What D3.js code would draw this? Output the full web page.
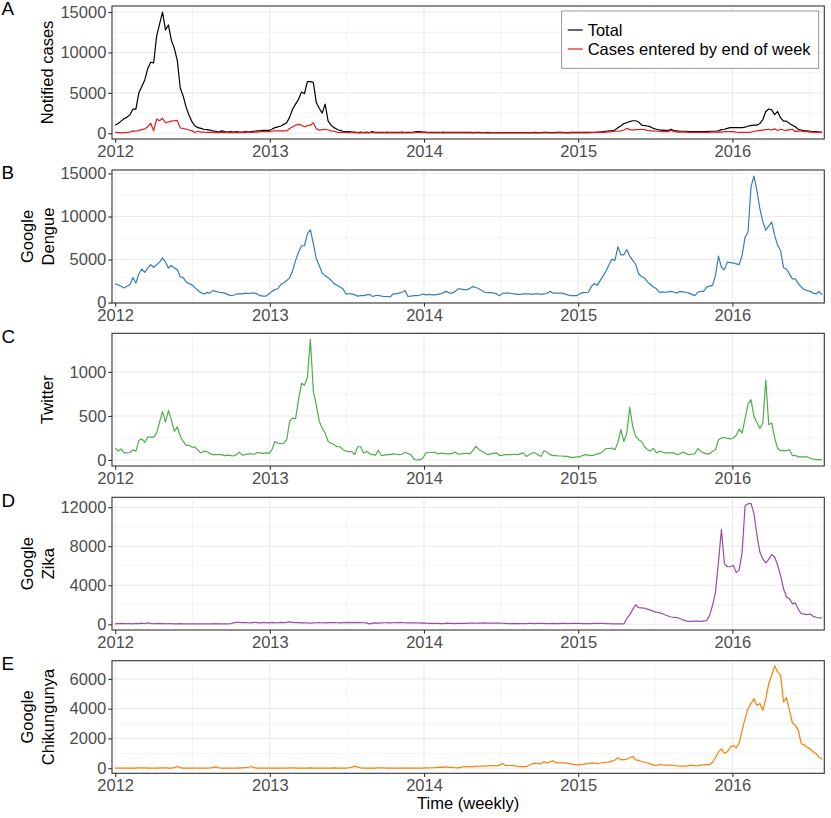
<!DOCTYPE html>
<html><head><meta charset="utf-8">
<script src="https://cdn.jsdelivr.net/npm/d3@7"></script>
<style>
body{margin:0;background:#fff}
svg text{font-family:"Liberation Sans",Arial,Helvetica,sans-serif}
</style></head><body>
<svg id="chart" width="831" height="818"></svg>
<script>
// ---------- DATA (weekly, first week starting 2012-01-01) ----------
const startWeek = "2012-01-01";
const yearTicks = ["2012", "2013", "2014", "2015", "2016"];

const totalCases = [
1000,1200,1500,1800,2000,2300,3000,3000,5000,5800,
6600,8000,8800,8700,12000,13500,15000,12800,13400,11500,
10500,9000,5600,4600,3200,2200,1400,900,700,600,
500,450,400,300,250,150,300,200,150,200,
150,200,150,150,200,150,200,250,300,300,
350,350,350,500,700,800,900,1100,1300,2000,
3000,3600,4200,5100,4900,6400,6400,6300,3800,3100,
2500,3600,1500,1000,700,500,350,250,200,200,
150,150,100,150,100,150,100,200,100,100,
100,100,150,100,100,100,100,150,100,100,
100,150,200,200,150,150,100,100,100,100,
100,150,100,100,100,100,100,100,100,100,
100,80,100,100,80,80,100,80,80,80,
80,80,80,80,80,80,80,80,80,80,
80,80,100,80,80,100,100,80,80,100,
100,100,80,80,100,100,100,100,100,100,
100,120,120,150,150,200,250,300,300,400,
700,900,1200,1300,1450,1550,1550,1400,1000,950,
900,800,600,500,400,400,350,350,500,300,
300,250,250,250,200,200,200,200,200,200,
200,250,250,250,300,450,500,600,700,700,
700,700,700,750,900,950,1000,1000,1200,1700,
2700,3000,2900,2300,2700,1900,1500,1500,1200,1000,
800,500,400,300,300,250,200,200,150,150];

const enteredCases = [
100,80,60,80,100,150,300,250,350,450,
550,800,1250,300,1750,1550,1850,1300,1400,1500,
1550,1600,650,600,500,400,300,100,250,150,
150,100,100,100,80,80,100,100,80,100,
80,100,80,80,100,100,120,150,150,200,
200,200,200,250,300,300,300,300,300,600,
800,1000,1100,1000,800,950,1000,1300,550,400,
450,500,400,300,250,150,100,100,100,80,
80,80,60,80,60,80,60,100,60,60,
60,60,80,60,60,60,60,80,60,60,
60,80,100,100,80,80,60,60,60,60,
60,60,60,60,50,50,50,50,50,50,
50,40,50,50,40,40,50,40,40,40,
40,40,40,40,40,40,40,40,40,40,
40,40,50,40,40,50,50,40,40,50,
50,50,40,40,50,50,50,60,60,60,
60,70,80,100,100,120,150,180,200,250,
250,300,400,600,450,400,450,450,500,450,
350,300,300,250,250,200,200,200,350,200,
150,150,150,150,120,120,120,120,120,120,
120,120,150,150,150,150,200,200,200,200,
150,120,100,100,100,150,250,300,350,400,
450,500,400,550,350,500,400,350,450,500,
200,300,250,200,200,150,150,120,100,100];

const googleDengue = [
2180,2050,1900,1700,1900,2100,2900,2250,3350,3900,
3500,4000,4400,4100,4400,4700,5200,4700,4000,4300,
4000,3850,3000,2900,2400,2200,2050,1700,1400,1150,
1000,1150,1100,1400,1300,1200,1150,1100,950,800,
850,1000,1000,1000,1100,1050,1100,1100,1000,800,
750,750,1000,1300,1500,1600,2100,2300,2550,2900,
3700,4900,5850,6600,6600,8000,8450,6850,5100,4300,
3400,3100,2900,2600,2200,2000,1800,1600,1000,1000,
1000,900,750,800,800,900,950,700,800,850,
750,700,700,650,1000,1000,1100,1200,1400,700,
750,800,800,850,1000,900,950,900,900,950,
1000,1150,1300,1100,1100,1300,1600,1550,1500,1500,
1650,1850,1750,1600,1400,1200,1150,1150,1100,1000,
780,1100,1100,1100,1050,1000,950,950,1000,1000,
1000,950,1000,1000,950,1000,1050,1300,1100,1100,
1100,1100,1000,900,800,800,800,1000,1150,1150,
1200,1850,2200,2000,2550,3100,3700,4400,5050,4900,
6500,5550,5550,6150,5400,4900,4450,3350,3000,2850,
2400,2100,1800,1600,1200,1200,1200,1250,1300,1200,
1100,1300,1250,1200,1100,950,800,1200,1300,1300,
1800,1900,2000,3150,5400,4100,3800,4700,4650,4600,
4500,4400,5500,7600,8200,13450,14700,13000,10900,9400,
8400,8900,9350,7800,6650,6050,4050,3900,3300,2750,
2750,2200,1800,1500,1400,1300,1100,1000,1300,900];

const twitter = [
135,100,125,80,80,85,115,100,220,240,
200,260,260,260,305,430,550,430,560,455,
325,375,270,210,165,165,145,145,110,80,
100,95,75,60,60,60,60,50,55,50,
45,60,90,55,60,70,70,65,85,80,
75,80,75,115,210,190,185,190,230,440,
475,470,685,870,850,940,1370,780,625,440,
360,305,210,190,175,150,150,120,100,95,
95,60,150,150,75,100,70,60,55,110,
50,55,60,60,70,65,60,65,85,75,
60,10,0,0,20,80,85,85,90,70,
75,75,70,70,75,90,65,70,75,75,
70,110,155,120,100,80,60,70,75,80,
50,55,60,60,60,65,60,70,80,40,
60,80,80,60,40,105,90,60,50,50,
45,45,40,40,30,30,35,35,50,60,
55,50,55,70,75,100,130,130,135,117,
200,345,210,305,600,380,270,230,210,150,
117,100,130,80,100,90,80,80,80,80,
60,70,90,75,60,65,70,130,100,80,
70,70,100,117,230,250,255,245,240,250,
280,350,305,470,635,685,495,425,360,420,
910,400,420,250,130,105,105,105,117,50,
50,35,35,35,35,20,10,5,5,5];

const googleZika = [
50,80,100,70,60,80,50,100,70,120,
60,150,100,60,80,100,80,60,80,60,
50,50,60,50,40,50,40,50,50,40,
40,50,40,50,60,50,40,50,40,60,
150,200,200,170,180,160,150,200,180,150,
180,170,150,200,150,160,200,170,200,250,
200,180,170,150,140,150,130,140,160,170,
160,150,170,180,170,160,150,170,180,190,
170,200,180,170,160,150,50,120,140,130,
150,160,170,150,160,170,180,170,160,150,
140,150,160,130,150,120,100,110,90,100,
80,70,120,100,90,80,100,110,90,100,
120,130,110,120,130,140,120,130,130,120,
120,110,100,80,70,90,80,70,70,80,
110,90,80,100,110,90,70,80,90,70,
80,90,100,80,90,110,100,90,80,60,
70,80,90,100,100,90,80,60,50,50,
50,40,35,580,990,1500,2000,1700,1680,1650,
1550,1450,1330,1250,1200,1100,950,850,750,720,
680,600,450,350,300,310,330,320,300,350,
375,920,1950,3300,6400,9700,6200,5900,5900,6050,
5300,5550,7400,12150,12350,12400,11350,9150,7400,6700,
6300,6650,7150,6900,6050,5000,3650,2800,2630,2100,
2200,1540,1100,1050,1000,1060,820,720,650,650];

const googleChikungunya = [
0,10,0,10,0,10,0,10,20,30,
20,10,0,10,10,20,30,20,10,10,
40,110,40,10,10,0,10,10,10,10,
10,10,20,40,90,30,10,10,10,10,
10,10,20,20,40,60,110,40,10,10,
10,10,10,10,10,10,10,10,10,20,
20,10,10,10,10,10,20,10,10,10,
10,10,10,10,20,10,10,10,10,30,
60,135,70,20,10,10,10,10,10,20,
30,20,10,10,10,10,10,10,10,20,
10,10,10,10,10,20,20,30,40,60,
70,60,90,60,50,30,20,50,110,90,
100,110,135,130,135,135,150,180,170,160,
200,315,180,180,180,170,120,110,110,110,
200,290,340,300,290,450,340,420,500,360,
360,360,360,320,290,260,225,240,250,290,
300,360,340,310,350,380,400,420,470,550,
700,560,580,600,700,790,560,520,450,400,
350,290,200,180,250,220,200,200,200,180,
150,135,135,135,170,200,160,170,200,220,
240,250,400,700,1100,1300,1010,1100,1420,1530,
1370,1690,2540,3330,4000,4340,4670,4220,4340,3890,
4670,5690,6250,6880,6470,6250,4450,4740,3890,3030,
2880,2540,1640,1570,1400,1300,1100,970,740,600];

const legendLabels = ["Total", "Cases entered by end of week"];
const tickA = [0, 5000, 10000, 15000];
const tickB = [0, 5000, 10000, 15000];
const tickC = [0, 500, 1000];
const tickD = [0, 4000, 8000, 12000];
const tickE = [0, 2000, 4000, 6000];

// ---------- LAYOUT ----------
const svg = d3.select("#chart");
const W = 831, H = 818;
const left = 112, right = 824.3;
const FONT = 16.5;
const parseDay = d3.utcParse("%Y-%m-%d");
const start = parseDay(startWeek);
const dates = d3.range(totalCases.length).map(i => d3.utcWeek.offset(start, i));
const DAY = 864e5;
const x = d3.scaleUtc()
  .domain([new Date(start.getTime() - 7.57 * DAY), new Date(start.getTime() + 1678.5 * DAY)])
  .range([left, right]);
const yearDates = yearTicks.map(y => parseDay(y + "-01-01"));
const xMinor = yearTicks.map(y => parseDay(y + "-07-02")).filter(d => d < x.domain()[1]);

const panels = [
  {tag: "A", title: ["Notified cases"], top: 6, bottom: 139, ticks: tickA,
   series: [{v: totalCases, c: "#000000"}, {v: enteredCases, c: "#E41A1C"}], legend: true},
  {tag: "B", title: ["Google", "Dengue"], top: 170, bottom: 303, ticks: tickB,
   series: [{v: googleDengue, c: "#377EB8"}]},
  {tag: "C", title: ["Twitter"], top: 333.3, bottom: 466, ticks: tickC,
   series: [{v: twitter, c: "#4DAF4A"}]},
  {tag: "D", title: ["Google", "Zika"], top: 497.3, bottom: 630, ticks: tickD,
   series: [{v: googleZika, c: "#984EA3"}]},
  {tag: "E", title: ["Google", "Chikungunya"], top: 660.7, bottom: 773.3, ticks: tickE,
   series: [{v: googleChikungunya, c: "#FF7F00"}]}
];

svg.append("rect").attr("width", W).attr("height", H).attr("fill", "#fff");

panels.forEach(p => {
  const all = p.series.flatMap(s => s.v);
  const mn = d3.min(all), mx = d3.max(all), pad = (mx - mn) * 0.05;
  const y = d3.scaleLinear().domain([mn - pad, mx + pad]).range([p.bottom, p.top]);
  const g = svg.append("g");

  // grid: minor
  const step = p.ticks[1] - p.ticks[0];
  const yMinor = d3.range(p.ticks[0] - step / 2, y.domain()[1], step)
    .filter(v => v > y.domain()[0] && v < y.domain()[1]);
  g.selectAll(".ymin").data(yMinor).join("line")
    .attr("x1", left).attr("x2", right).attr("y1", d => y(d)).attr("y2", d => y(d))
    .attr("stroke", "#EBEBEB").attr("stroke-width", 0.55);
  g.selectAll(".xmin").data(xMinor).join("line")
    .attr("y1", p.top).attr("y2", p.bottom).attr("x1", d => x(d)).attr("x2", d => x(d))
    .attr("stroke", "#EBEBEB").attr("stroke-width", 0.55);
  // grid: major
  g.selectAll(".ymaj").data(p.ticks).join("line")
    .attr("x1", left).attr("x2", right).attr("y1", d => y(d)).attr("y2", d => y(d))
    .attr("stroke", "#EBEBEB").attr("stroke-width", 1.1);
  g.selectAll(".xmaj").data(yearDates).join("line")
    .attr("y1", p.top).attr("y2", p.bottom).attr("x1", d => x(d)).attr("x2", d => x(d))
    .attr("stroke", "#EBEBEB").attr("stroke-width", 1.1);

  // lines
  const line = d3.line().x((d, i) => x(dates[i])).y(d => y(d));
  p.series.forEach(s => {
    g.append("path").datum(s.v).attr("d", line)
      .attr("fill", "none").attr("stroke", s.c).attr("stroke-width", 1.2)
      .attr("stroke-linejoin", "round");
  });

  // border
  g.append("rect").attr("x", left).attr("y", p.top)
    .attr("width", right - left).attr("height", p.bottom - p.top)
    .attr("fill", "none").attr("stroke", "#333333").attr("stroke-width", 1.1);

  // axes
  const ax = g.append("g").attr("transform", `translate(0,${p.bottom})`)
    .call(d3.axisBottom(x).tickValues(yearDates).tickFormat(d3.utcFormat("%Y"))
      .tickSize(3.7).tickPadding(2.6));
  const ay = g.append("g").attr("transform", `translate(${left},0)`)
    .call(d3.axisLeft(y).tickValues(p.ticks).tickFormat(d3.format("d"))
      .tickSize(3.7).tickPadding(2));
  [ax, ay].forEach(a => {
    a.select(".domain").remove();
    a.selectAll(".tick line").attr("stroke", "#333333").attr("stroke-width", 1.1);
    a.selectAll(".tick text").attr("fill", "#4D4D4D")
      .style("font-size", FONT + "px").style("font-family", '"Liberation Sans",Arial,sans-serif');
  });

  // y title
  const cy = (p.top + p.bottom) / 2;
  const bx = p.title.length === 1 ? [53.4] : [32.5, 54];
  p.title.forEach((t, k) => {
    g.append("text").attr("transform", `translate(${bx[k]},${cy}) rotate(-90)`)
      .attr("text-anchor", "middle").attr("fill", "#000")
      .style("font-size", FONT + "px").text(t);
  });

  // tag
  g.append("text").attr("x", 1.5).attr("y", p.top + 9.3).attr("fill", "#000")
    .style("font-size", "18.8px").text(p.tag);

  // legend
  if (p.legend) {
    const lg = g.append("g");
    lg.append("rect").attr("x", 561.7).attr("y", 11).attr("width", 257).attr("height", 57.3)
      .attr("fill", "#fff").attr("stroke", "#7F7F7F").attr("stroke-width", 0.8);
    p.series.forEach((s, k) => {
      const ly = 30 + k * 19;
      lg.append("line").attr("x1", 567.7).attr("x2", 582.7).attr("y1", ly).attr("y2", ly)
        .attr("stroke", s.c).attr("stroke-width", 1.2);
      lg.append("text").attr("x", 587.7).attr("y", ly).attr("dy", "0.35em").attr("fill", "#000")
        .style("font-size", FONT + "px").text(legendLabels[k]);
    });
  }
});

// x title
svg.append("text").attr("x", (left + right) / 2).attr("y", 809)
  .attr("text-anchor", "middle").attr("fill", "#000")
  .style("font-size", FONT + "px").text("Time (weekly)");
</script>
</body></html>
